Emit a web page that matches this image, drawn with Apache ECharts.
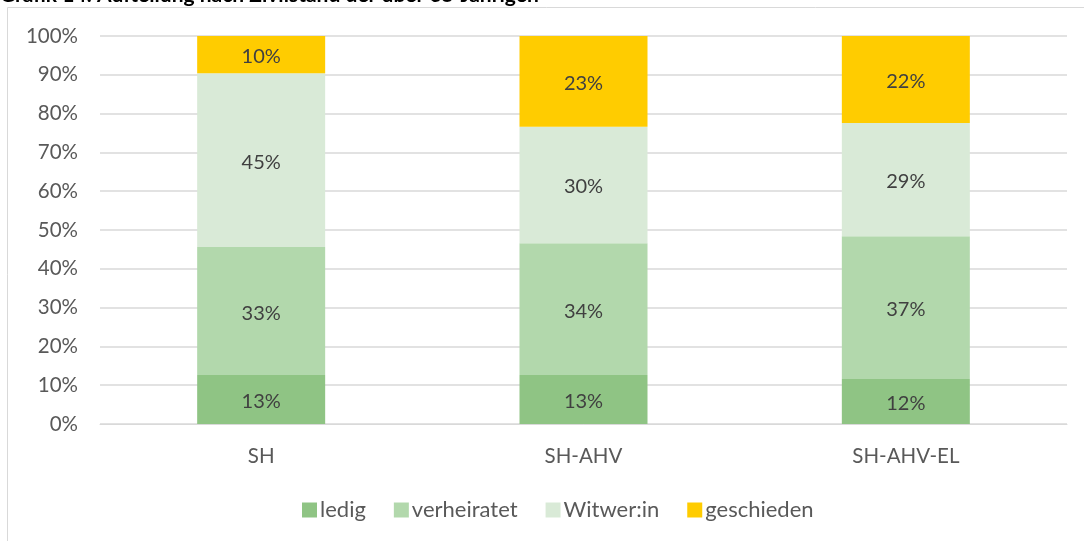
<!DOCTYPE html>
<html>
<head>
<meta charset="utf-8">
<script src="https://cdn.jsdelivr.net/npm/echarts@6/dist/echarts.min.js"></script>
<style>
html,body{margin:0;padding:0;background:#fff;}
#c{width:1084px;height:541px;}
</style>
</head>
<body>
<div id="c"></div>
<script>
const categories = ['SH', 'SH-AHV', 'SH-AHV-EL'];
const ledig = [12.6, 12.6, 11.6];
const verheiratet = [33.0, 34.0, 36.8];
const witwer = [44.8, 30.0, 29.2];
const geschieden = [9.6, 23.4, 22.4];
const seriesNames = ['ledig', 'verheiratet', 'Witwer:in', 'geschieden'];
const yTicks = [0, 10, 20, 30, 40, 50, 60, 70, 80, 90, 100];
const titleText = 'Grafik 14: Aufteilung nach Zivilstand der über 65-Jährigen';

const colors = ['#8fc484', '#b2d8ac', '#d9ead7', '#ffcc00'];
const FONT = 'Lato';

const chart = echarts.init(document.getElementById('c'), null, {renderer: 'canvas'});
const seriesData = [ledig, verheiratet, witwer, geschieden];

chart.setOption({
  animation: false,
  backgroundColor: '#fff',
  color: colors,
  graphic: [
    {type: 'rect', shape: {x: 7.5, y: 7.5, width: 1200, height: 700},
     style: {fill: 'none', stroke: '#d9d9d9', lineWidth: 1}, z: -1},
    {type: 'text', left: 0, top: -15,
     style: {text: titleText, font: 'bold 21px ' + FONT, fill: '#000'}}
  ],
  grid: {left: 100, right: 17, top: 36, bottom: 117, containLabel: false},
  legend: {
    data: seriesNames,
    bottom: 15,
    left: 297,
    itemWidth: 15, itemHeight: 15, itemGap: 28,
    icon: 'rect',
    textStyle: {fontFamily: FONT, fontSize: 22, color: '#595959', padding: [0, 0, 0, -2]}
  },
  xAxis: {
    type: 'category',
    data: categories,
    axisLine: {show: true, lineStyle: {color: '#d9d9d9', width: 1}},
    axisTick: {show: false},
    axisLabel: {fontFamily: FONT, fontSize: 20.5, color: '#595959', margin: 22}
  },
  yAxis: {
    type: 'value',
    min: yTicks[0], max: yTicks[yTicks.length - 1], interval: 10,
    axisLine: {show: false},
    axisTick: {show: false},
    splitLine: {lineStyle: {color: '#d9d9d9', width: 1.5}},
    axisLabel: {fontFamily: FONT, fontSize: 20.5, color: '#595959', margin: 22, formatter: '{value}%'}
  },
  series: seriesNames.map((n, i) => ({
    name: n,
    type: 'bar',
    stack: 'total',
    barWidth: 128,
    data: seriesData[i],
    itemStyle: {color: colors[i]},
    label: {
      show: true,
      position: 'inside',
      offset: [0, 2],
      fontFamily: FONT,
      fontSize: 20,
      color: '#404040',
      formatter: p => Math.round(p.value) + '%'
    }
  }))
});
</script>
</body>
</html>
